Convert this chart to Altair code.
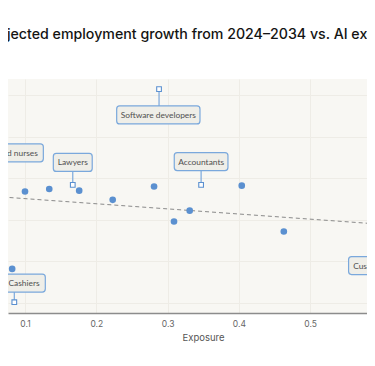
import altair as alt
import pandas as pd

# ---------------- data ----------------
circle_x = [0.065, 0.100, 0.134, 0.176, 0.223, 0.281, 0.309, 0.331, 0.404, 0.463, 0.082]
circle_y = [5.4, 3.4, 3.7, 3.5, 2.4, 4.0, -0.2, 1.1, 4.1, -1.4, -5.9]

occupations = ["Software developers", "Registered nurses", "Lawyers",
               "Accountants", "Cashiers", "Customer service representatives"]
occ_x = [0.288, 0.061, 0.167, 0.347, 0.085, 0.644]
occ_y = [15.7, 5.0, 4.2, 4.2, -9.9, -8.4]
label_x = [0.287, 0.0725, 0.167, 0.347, 0.0986, 0.646]
label_y = [12.6, 8.05, 6.9, 7.0, -7.6, -5.5]

trend_x = [0.0, 0.8]
trend_y = [3.16, -1.77]

x_ticks = [0.1, 0.2, 0.3, 0.4, 0.5]
y_grid = [-10, -5, 0, 5, 10, 15]

# ---------------- layout ----------------
W, H = 359, 234
PX_PER_UNIT = 713
X_DOM = [0.07616, 0.07616 + W / PX_PER_UNIT]
Y_DOM = [-11.2, 16.92]
px_x = W / (X_DOM[1] - X_DOM[0])
px_y = H / (Y_DOM[1] - Y_DOM[0])

BLUE = "#5b90d0"
BOX_STROKE = "#7aa8dc"
BOX_FILL = "#efeee8"
FONT = "Inter"
LFONT = "Lato"

xs = alt.Scale(domain=X_DOM, nice=False, zero=False)
ys = alt.Scale(domain=Y_DOM, nice=False, zero=False)

pts = pd.DataFrame({"x": circle_x, "y": circle_y})
occ = pd.DataFrame({"name": occupations, "x": occ_x, "y": occ_y,
                    "lx": label_x, "ly": label_y})
hw = [(3.7 * len(n) + 13) / 2 / px_x for n in occupations]
hh = 9 / px_y
occ["x0"] = [a - b for a, b in zip(label_x, hw)]
occ["x1"] = [a + b for a, b in zip(label_x, hw)]
occ["y0"] = [a - hh for a in label_y]
occ["y1"] = [a + hh for a in label_y]
trend = pd.DataFrame({"x": trend_x, "y": trend_y})

base_x = alt.X("x:Q", scale=xs, axis=alt.Axis(
    values=x_ticks, format=".1f", title="Exposure", grid=True,
    gridColor="#eeece6", gridWidth=1, ticks=False,
    domainColor="#8c8c8c", domainWidth=1.5,
    labelFontSize=8.5, labelColor="#666666", labelFont=FONT, labelPadding=6,
    titleFontSize=9.5, titleColor="#555555", titleFont=FONT,
    titleFontWeight="normal", titleX=195, titleY=19))
base_y = alt.Y("y:Q", scale=ys, axis=alt.Axis(
    values=y_grid, labels=False, ticks=False, domain=False, title=None,
    grid=True, gridColor="#eeece6", gridWidth=1))

trend_layer = alt.Chart(trend).mark_line(
    color="#8a8a8a", strokeDash=[4, 3], strokeWidth=1
).encode(x=base_x, y=base_y)

circles = alt.Chart(pts).mark_circle(size=44, color=BLUE, opacity=1).encode(
    x=alt.X("x:Q", scale=xs), y=alt.Y("y:Q", scale=ys))

connectors = alt.Chart(occ).mark_rule(color=BOX_STROKE, strokeWidth=1.2).encode(
    x=alt.X("x:Q", scale=xs), y=alt.Y("y:Q", scale=ys), y2="ly:Q")

boxes = alt.Chart(occ).mark_rect(
    fill=BOX_FILL, stroke=BOX_STROKE, strokeWidth=1.2, cornerRadius=3
).encode(x=alt.X("x0:Q", scale=xs), x2="x1:Q",
         y=alt.Y("y0:Q", scale=ys), y2="y1:Q")

texts = alt.Chart(occ).mark_text(
    font=LFONT, fontSize=8.4, color="#505050", align="center", baseline="middle"
).encode(x=alt.X("lx:Q", scale=xs), y=alt.Y("ly:Q", scale=ys), text="name:N")

markers = alt.Chart(occ).mark_point(
    shape="square", filled=True, fill="#ffffff", stroke=BLUE,
    strokeWidth=1.1, size=22, opacity=1
).encode(x=alt.X("x:Q", scale=xs), y=alt.Y("y:Q", scale=ys))

chart = alt.layer(
    trend_layer, circles, connectors, boxes, texts, markers
).properties(
    width=W, height=H,
    autosize=alt.AutoSizeParams(type="none"),
    padding={"left": 0, "top": 71, "right": 0, "bottom": 38},
    background="#ffffff",
    title=alt.TitleParams(
        text="Projected employment growth from 2024–2034 vs. AI exposure",
        anchor="start", dx=-24, fontSize=14.2, font=FONT, fontWeight=500,
        color="#141413", offset=30, baseline="middle", frame="group"),
).configure_view(fill="#f8f7f3", stroke=None)

chart.save("out.html", embed_options={"renderer": "svg", "actions": False})
